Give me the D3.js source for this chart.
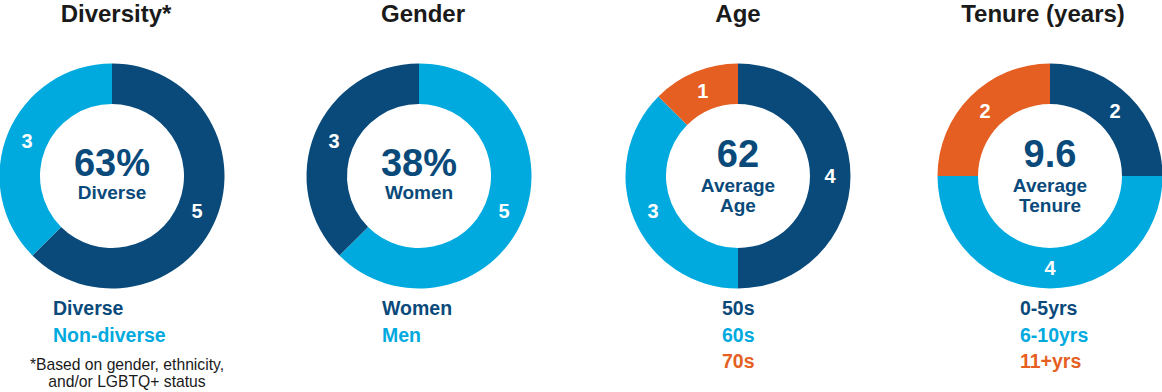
<!DOCTYPE html>
<html><head><meta charset="utf-8">
<script src="https://cdn.jsdelivr.net/npm/d3@7"></script>
<style>body{margin:0;background:#fff}svg{display:block;font-family:"Liberation Sans",Arial,sans-serif}</style>
</head><body><svg id="c" width="1162" height="392"></svg>
<script>
const titles = ["Diversity*", "Gender", "Age", "Tenure (years)"];
const diversityCats = ["Diverse", "Non-diverse"];
const diversityVals = [5, 3];
const genderCats = ["Women", "Men"];
const genderVals = [3, 5];
const ageCats = ["50s", "60s", "70s"];
const ageVals = [4, 3, 1];
const tenureCats = ["0-5yrs", "6-10yrs", "11+yrs"];
const tenureVals = [2, 4, 2];
const centerBig = ["63%", "38%", "62", "9.6"];
const centerSub = [["Diverse"], ["Women"], ["Average", "Age"], ["Average", "Tenure"]];
const footnote = ["*Based on gender, ethnicity,", "and/or LGBTQ+ status"];

const DARK = "#0a4a7a", LIGHT = "#00aadf", ORANGE = "#e45f21";
const charts = [
  {cats: diversityCats, vals: diversityVals, colors: [DARK, LIGHT], order: [0, 1]},
  // gender: Men (light) first clockwise from top, then Women (dark)
  {cats: genderCats, vals: genderVals, colors: [DARK, LIGHT], order: [1, 0]},
  {cats: ageCats, vals: ageVals, colors: [DARK, LIGHT, ORANGE], order: [0, 1, 2]},
  {cats: tenureCats, vals: tenureVals, colors: [DARK, LIGHT, ORANGE], order: [0, 1, 2]}
];
const cxs = [112, 419, 738, 1050];
const titleX = [116, 423, 738, 1043];
const legendX = [53, 382, 722, 1020];
const cy = 176, R = 112.5, r = 72;

const svg = d3.select("#c");
const arc = d3.arc().innerRadius(r).outerRadius(R);
const labelArc = d3.arc().innerRadius(92).outerRadius(92);

charts.forEach((c, i) => {
  svg.append("text").attr("x", titleX[i]).attr("y", 22).attr("text-anchor", "middle")
    .attr("font-size", 24).attr("font-weight", "bold").attr("fill", "#1a1a1a").text(titles[i]);

  const items = c.order.map(k => ({cat: c.cats[k], val: c.vals[k], color: c.colors[k]}));
  const pie = d3.pie().sort(null).value(d => d.val);
  const arcs = pie(items);
  const g = svg.append("g").attr("transform", `translate(${cxs[i]},${cy})`);
  g.selectAll("path").data(arcs).join("path").attr("d", arc).attr("fill", d => d.data.color);
  g.selectAll("text.lbl").data(arcs).join("text").attr("class", "lbl")
    .attr("transform", d => `translate(${labelArc.centroid(d)})`)
    .attr("text-anchor", "middle").attr("dy", "0.36em")
    .attr("font-size", 20).attr("font-weight", "bold").attr("fill", "#fff")
    .text(d => d.data.val);

  const twoLine = centerSub[i].length > 1;
  g.append("text").attr("x", 0).attr("y", twoLine ? -9 : 0).attr("text-anchor", "middle")
    .attr("font-size", 38).attr("font-weight", "bold").attr("fill", DARK).text(centerBig[i]);
  centerSub[i].forEach((s, j) => {
    g.append("text").attr("x", 0).attr("y", (twoLine ? 16 : 23) + j * 20).attr("text-anchor", "middle")
      .attr("font-size", 19).attr("font-weight", "bold").attr("fill", DARK).text(s);
  });

  c.cats.forEach((cat, j) => {
    svg.append("text").attr("x", legendX[i]).attr("y", 315 + j * 26.5)
      .attr("font-size", 19.5).attr("font-weight", "bold").attr("fill", c.colors[j]).text(cat);
  });
});

footnote.forEach((t, j) => {
  svg.append("text").attr("x", 127).attr("y", 370 + j * 17).attr("text-anchor", "middle")
    .attr("font-size", 15.7).attr("fill", "#1a1a1a").text(t);
});
</script></body></html>
